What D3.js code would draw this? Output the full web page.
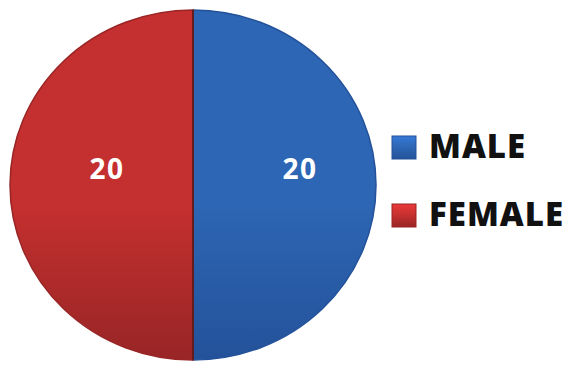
<!DOCTYPE html>
<html><head><meta charset="utf-8">
<script src="https://cdn.jsdelivr.net/npm/d3@7"></script>
<style>html,body{margin:0;padding:0;background:#fff;}</style>
</head><body>
<svg id="c" width="569" height="365"></svg>
<script>
const categories = ["MALE", "FEMALE"];
const values = [20, 20];
const colors = ["#2D66B4", "#C4302F"];
const darkColors = ["#24529A", "#992526"];
const labelRadius = [0.585, 0.47];

const svg = d3.select("#c");
const defs = svg.append("defs");
const cx = 193, cy = 185, rx = 183, ry = 175;

categories.forEach((c, i) => {
  const g = defs.append("linearGradient").attr("id", "g" + i)
    .attr("x1", 0).attr("y1", 0).attr("x2", 0).attr("y2", 1);
  g.append("stop").attr("offset", "0%").attr("stop-color", colors[i]);
  g.append("stop").attr("offset", "55%").attr("stop-color", colors[i]);
  g.append("stop").attr("offset", "100%").attr("stop-color", darkColors[i]);
  const lg = defs.append("linearGradient").attr("id", "lg" + i)
    .attr("x1", 0).attr("y1", 0).attr("x2", 0).attr("y2", 1);
  lg.append("stop").attr("offset", "0%").attr("stop-color", d3.color(colors[i]).brighter(0.5));
  lg.append("stop").attr("offset", "50%").attr("stop-color", colors[i]);
  lg.append("stop").attr("offset", "100%").attr("stop-color", darkColors[i]);
});

const pie = d3.pie().sort(null).value(d => d.v);
const data = categories.map((c, i) => ({c, v: values[i], i}));
const arcs = pie(data);
const arc = d3.arc().innerRadius(0).outerRadius(rx);

const pg = svg.append("g").attr("transform", `translate(${cx},${cy}) scale(1,${ry/rx})`);
pg.selectAll("path.s").data(arcs).join("path").attr("class", "s")
  .attr("d", arc)
  .attr("fill", d => `url(#g${d.data.i})`)
  .attr("stroke", d => darkColors[d.data.i])
  .attr("stroke-width", 1.5);
pg.append("line").attr("x1", 0).attr("x2", 0).attr("y1", -rx).attr("y2", rx)
  .attr("stroke", "#5a1a1a").attr("stroke-width", 1.6);

svg.selectAll("text.v").data(arcs).join("text").attr("class", "v")
  .attr("x", d => {
    const la = d3.arc().innerRadius(rx * labelRadius[d.data.i]).outerRadius(rx * labelRadius[d.data.i]);
    return cx + la.centroid(d)[0];
  })
  .attr("y", d => cy - 6)
  .attr("text-anchor", "middle")
  .attr("font-family", "Open Sans, sans-serif").attr("font-weight", "bold")
  .attr("font-size", 28).attr("letter-spacing", 1.5).attr("fill", "#fff")
  .text(d => d.data.v);

const leg = svg.append("g");
const ly = d3.scalePoint().domain(categories).range([147, 215]);
const items = leg.selectAll("g").data(data).join("g")
  .attr("transform", d => `translate(392,${ly(d.c)})`);
items.append("rect").attr("x", 0).attr("y", -11).attr("width", 24).attr("height", 23)
  .attr("fill", d => `url(#lg${d.i})`).attr("stroke", d => darkColors[d.i]).attr("stroke-width", 1);
items.append("text").attr("x", 37).attr("y", 11)
  .attr("font-family", "Open Sans, sans-serif").attr("font-weight", 800)
  .attr("font-size", 33).attr("letter-spacing", 1).attr("fill", "#111")
  .text(d => d.c);
</script>
</body></html>
